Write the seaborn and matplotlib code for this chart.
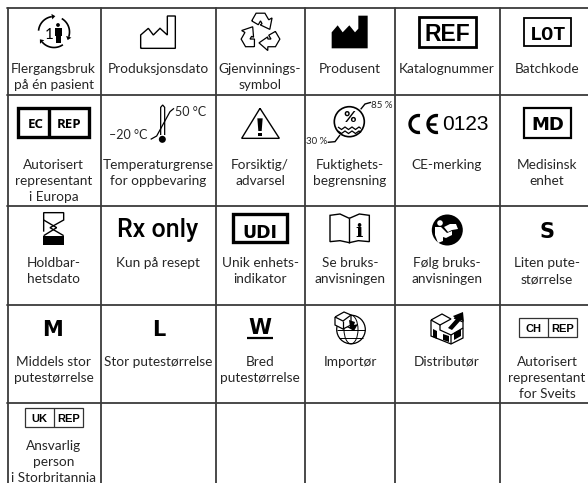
import numpy as np
import pandas as pd
import matplotlib.pyplot as plt
import seaborn as sns
from matplotlib.patches import Circle, Ellipse, Polygon, Rectangle

# Table content
labels = [
    ["Flergangsbruk\npå én pasient", "Produksjonsdato", "Gjenvinnings-\nsymbol", "Produsent", "Katalognummer", "Batchkode"],
    ["Autorisert\nrepresentant\ni Europa", "Temperaturgrense\nfor oppbevaring", "Forsiktig/\nadvarsel", "Fuktighets-\nbegrensning", "CE-merking", "Medisinsk\nenhet"],
    ["Holdbar-\nhetsdato", "Kun på resept", "Unik enhets-\nindikator", "Se bruks-\nanvisningen", "Følg bruks-\nanvisningen", "Liten pute-\nstørrelse"],
    ["Middels stor\nputestørrelse", "Stor putestørrelse", "Bred\nputestørrelse", "Importør", "Distributør", "Autorisert\nrepresentant\nfor Sveits"],
    ["Ansvarlig\nperson\ni Storbritannia", "", "", "", "", ""],
]
col_edges = [7.5, 100.5, 216, 304.7, 394.7, 500]
row_edges = [8, 94.5, 206, 305, 403]
col_centers = [53.5, 158, 260, 350, 447, 547]
first_baseline = [73, 169, 267, 366, 450]
LINE_STEP = 16
INK = "#262626"
FONT = "Lato"

sns.set_theme(style="white")
plt.rcParams["font.family"] = [FONT, "DejaVu Sans"]

fig = plt.figure(figsize=(5.88, 4.83), dpi=100)
ax = fig.add_axes([0, 0, 1, 1])

# Grid lines as one long table
grid = []
for i, x in enumerate(col_edges):
    grid += [("v%d" % i, x, 8), ("v%d" % i, x, 483)]
for i, y in enumerate(row_edges):
    grid += [("h%d" % i, 7, y), ("h%d" % i, 588, y)]
grid = pd.DataFrame(grid, columns=["line", "x", "y"])
sns.lineplot(data=grid, x="x", y="y", units="line", estimator=None, sort=False,
             color="#3a3a3a", lw=1.3, ax=ax, legend=False)
ax.set_xlim(0, 588)
ax.set_ylim(483, 0)
ax.axis("off")

# Labels
for r, row in enumerate(labels):
    for c, label in enumerate(row):
        for k, part in enumerate(label.split("\n")):
            ax.text(col_centers[c], first_baseline[r] + k * LINE_STEP, part, ha="center",
                    va="baseline", fontsize=9.85, color=INK)


def line(pts, lw=1.0, color="black", closed=False):
    pts = np.array(pts, float)
    if closed:
        pts = np.vstack([pts, pts[:1]])
    ax.plot(pts[:, 0], pts[:, 1], color=color, lw=lw, solid_joinstyle="miter", solid_capstyle="butt")


def fill(pts, color="black"):
    ax.add_patch(Polygon(pts, closed=True, fc=color, ec="none"))


def zpts(pts, x0=0, y0=0):
    return [(x0 + x / 3, y0 + y / 3) for x, y in pts]


def box(x0, y0, x1, y1, lw, color="black"):
    ax.add_patch(Rectangle((x0, y0), x1 - x0, y1 - y0, fc="none", ec=color, lw=lw))


def arc(cx, cy, r, a0, a1, lw=1.0, head=0):
    a = np.radians(np.linspace(a0, a1, 40))
    ax.plot(cx + r * np.cos(a), cy + r * np.sin(a), color="black", lw=lw, solid_capstyle="butt")
    if head:
        ex, ey = cx + r * np.cos(a[-1]), cy + r * np.sin(a[-1])
        tx, ty = -np.sin(a[-1]), np.cos(a[-1])
        nx, ny = np.cos(a[-1]), np.sin(a[-1])
        fill([(ex + tx * head, ey + ty * head), (ex + nx * head * .8, ey + ny * head * .8),
              (ex - nx * head * .8, ey - ny * head * .8)])


def tag(x, y, s, size, family=None, weight="bold", **kw):
    ax.text(x, y, s, ha="center", va="center_baseline", fontsize=size, fontweight=weight,
            family=family or FONT, color="black", **kw)


# Row 1 symbols
arc(54, 32, 15.5, 185, 262, 1.2, 3.5)
arc(54, 32, 15.5, 300, 378, 1.2, 3.5)
arc(54, 32, 15.5, 55, 140, 1.2, 3.5)
tag(49.5, 33.5, "1", 11, "Lato", "normal")
ax.add_patch(Circle((58, 25), 1.9, fc="black", ec="none"))
fill([(55, 28), (62, 28), (62, 36), (60.8, 36), (60.8, 43), (56.2, 43), (56.2, 36), (55, 36)])
line(zpts([(422, 145), (422, 105), (445, 85), (460, 105), (480, 85), (502, 105), (502, 48), (526, 48), (526, 145)]), 1.0, closed=True)
arm = np.array([(-8, -11), (-4, -18), (4, -18), (7.5, -12), (10.5, -13.7), (8.45, -3.3),
                (-0.2, -7.4), (1.4, -8.5), (0, -11), (-2, -7.5)], float) * 1.1
for ang in (0, 120, 240):
    t = np.radians(ang)
    rot = np.array([[np.cos(t), -np.sin(t)], [np.sin(t), np.cos(t)]])
    line(arm @ rot.T + (260.5, 33), 0.9, closed=True)
fill(zpts([(125, 145), (125, 97), (143, 76), (158, 97), (178, 76), (195, 97), (205, 86), (205, 47), (233, 47), (233, 145)], 290))
box(290 + 387 / 3, 52 / 3, 290 + 558 / 3, 142 / 3, 2.0)
tag(290 + 472 / 3, 32, "REF", 16.5, "Liberation Sans")
box(290 + 703 / 3, 53 / 3, 290 + 842 / 3, 138 / 3, 1.3)
tag(290 + 773 / 3, 32, "LOT", 14.5, "Liberation Mono")

# Row 2 symbols
box(55 / 3, 323 / 3, 268 / 3, 412 / 3, 2.4)
line(zpts([(148, 323), (148, 412)]), 2.4)
tag(106 / 3, 123, "EC", 9.5, "Open Sans")
tag(207 / 3, 123, "REP", 9.5, "Open Sans")
line(zpts([(482, 405), (482, 322), (488, 315), (494, 322), (494, 405)]), 0.9)
ax.add_patch(Circle((487 / 3, 418 / 3), 3.5, fc="black", ec="none"))
line(zpts([(452, 418), (470, 408), (510, 335), (522, 325)]), 0.9)
ax.text(175, 115.5, "50 °C", fontsize=9, color=INK, ha="left")
ax.text(109, 139, "–20 °C", fontsize=9, color=INK, ha="left")
line(zpts([(780, 325), (725, 415), (838, 415)]), 1.0, closed=True)
fill(zpts([(772, 355), (788, 355), (785, 393), (775, 393)]))
fill(zpts([(774, 398), (786, 398), (786, 408), (774, 408)]))
ax.add_patch(Circle((349.3, 121.7), 15, fc="none", ec="black", lw=1.2))
tag(349.5, 117, "%", 11, "Lato")
wave_x = np.array([338, 341.5, 345, 348.5, 352, 355.5, 359, 361])
line(list(zip(wave_x, [127, 129.5, 127, 129.5, 127, 129.5, 127, 128.5])), 0.9)
line(list(zip(wave_x, [131, 133.5, 131, 133.5, 131, 133.5, 131, 132.5])), 0.9)
line(zpts([(212, 328), (225, 312), (243, 307)], 290), 1.0)
line(zpts([(113, 427), (135, 425), (150, 405)], 290), 1.0)
ax.text(371, 105, "85 %", fontsize=7, color=INK, va="center", ha="left")
ax.text(306.5, 142, "30 %", fontsize=7, color=INK, va="center", ha="left")
arc(418.5, 124, 8.5, 80, 280, 2.4)
arc(436.5, 124, 8.5, 80, 280, 2.4)
line([(427, 124), (436, 124)], 1.8)
ax.text(465, 130.5, "0123", fontsize=15, family="Liberation Sans", color="black", ha="center")
box(290 + 702 / 3, 325 / 3, 290 + 843 / 3, 413 / 3, 1.6)
tag(290 + 773 / 3, 123, "MD", 13, "DejaVu Sans")

# Row 3 symbols
line(zpts([(131, 125), (131, 68), (191, 68), (191, 90), (150, 113), (191, 137)], 0, 190), 1.0)
line(zpts([(131, 90), (170, 113), (131, 137)], 0, 190), 1.0)
fill(zpts([(130, 138), (192, 138), (192, 165), (130, 165)], 0, 190))
tag(158, 228, "Rx only", 18, "Roboto", "medium")
box(700 / 3, 190 + 72 / 3, 862 / 3, 190 + 157 / 3, 2.4)
tag(260, 230.5, "UDI", 12.5, "DejaVu Sans")
line(zpts([(178, 85), (150, 72), (120, 76), (120, 155), (150, 152), (178, 158), (205, 152), (238, 155), (238, 76), (208, 72), (178, 85)], 290, 190), 1.0)
line(zpts([(178, 85), (178, 158)], 290, 190), 1.0)
tag(290 + 208 / 3, 230, "i", 14, "DejaVu Serif")
ax.add_patch(Circle((447.3, 230), 15.5, fc="black", ec="none"))
ax.add_patch(Circle((440, 223), 2.8, fc="white", ec="none"))
fill([(435, 227), (441, 227), (447, 233), (452, 231), (452, 235), (446, 238), (443, 237), (443, 241), (438, 243), (435, 235)], "white")
fill([(444, 227), (450, 224), (456, 224), (458, 229), (452, 230), (448, 232)], "white")
tag(547.3, 230, "S", 15, "DejaVu Sans")
tag(53, 328, "M", 15, "DejaVu Sans")
tag(159, 328, "L", 15, "DejaVu Sans")
tag(260, 326.5, "W", 15, "DejaVu Sans")
line(zpts([(742, 443), (820, 443)], 0, 190), 1.6)

# Row 4 symbols
ax.add_patch(Circle((351, 329.5), 14.3, fc="none", ec="black", lw=0.9))
ax.add_patch(Ellipse((351, 329.5), 14, 28.6, fc="none", ec="black", lw=0.7))
line([(337, 329.5), (365, 329.5)], 0.7)
line([(339, 338), (363, 338)], 0.7)
fill([(335, 317), (344, 312), (351, 315), (351, 325), (343, 329), (335, 325)], "white")
line([(335, 317), (344, 312), (351, 315), (351, 325), (343, 329), (335, 325)], 0.9, closed=True)
line([(335, 317), (343, 321), (351, 315)], 0.9)
line([(343, 321), (343, 329)], 0.9)
fill([(349, 320), (355, 322), (354, 325), (358, 324), (354, 331), (347, 327), (350, 327)])
# distributor building
fill([(431, 320), (442, 314), (451, 319), (451, 322), (459, 320), (463, 322), (463, 338), (451, 344), (431, 336)], "white")
line([(431, 320), (442, 314), (451, 319), (440, 325)], 0.9, closed=True)
line([(431, 320), (431, 336), (451, 344), (463, 338), (463, 322), (454, 318)], 0.9)
line([(440, 325), (440, 330), (451, 335), (451, 344)], 0.9)
line([(451, 335), (463, 328)], 0.9)
fill([(433, 329), (437, 331), (437, 339), (433, 337)])
fill([(443, 334), (449, 336), (449, 342), (443, 340)])
fill([(454, 333), (461, 329), (461, 336), (454, 340)])
fill([(448, 328), (456, 319), (453, 316), (463, 312), (464, 322), (461, 320), (452, 330)])
for x0, y0, x1, y1, div, left in [(518.7, 318.3, 576.7, 336.7, 547.7, "CH"), (25.3, 408.3, 82.7, 427.3, 53.7, "UK")]:
    box(x0, y0, x1, y1, 0.9, "#333333")
    line([(div, y0), (div, y1)], 0.9, "#333333")
    tag((x0 + div) / 2, (y0 + y1) / 2, left, 8, "Liberation Sans")
    tag((x1 + div) / 2, (y0 + y1) / 2, "REP", 8, "Liberation Sans")

fig.savefig("out.png", dpi=100)
